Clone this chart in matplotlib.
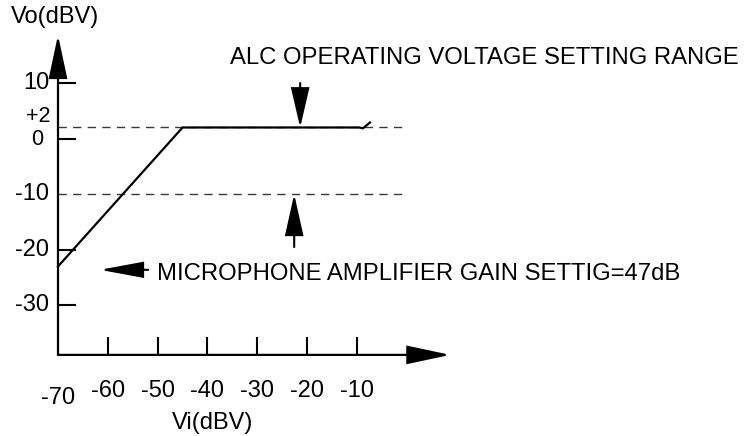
import matplotlib
matplotlib.use('Agg')
import matplotlib.pyplot as plt
from matplotlib.patches import FancyArrowPatch

plt.rcParams['font.family'] = ['Liberation Sans', 'DejaVu Sans']

# ---------------- data ----------------
vi_curve = [-70, -45, -9.6, -8.8, -7.4]
vo_curve = [-23, 2, 2, 1.85, 2.9]

x_tick_vals = [-60, -50, -40, -30, -20, -10]
x_label_vals = [-70, -60, -50, -40, -30, -20, -10]
x_label_text = ['-70', '-60', '-50', '-40', '-30', '-20', '-10']

y_tick_vals = [10, 0, -20, -30]
y_label_vals = [10, 2, 0, -10, -20, -30]
y_label_text = ['10', '+2', '0', '-10', '-20', '-30']

alc_upper = 2
alc_lower = -10

x_origin, x_end = -70, 8.7
y_origin, y_end = -38.9, 18.6
dash_end = 0.2

# ---------------- figure ----------------
fig = plt.figure(figsize=(7.47, 4.36), dpi=100)
ax = fig.add_axes([0, 0, 1, 1])
ax.set_xlim(-81.64, 68.27)
ax.set_ylim(-53.49, 24.93)
ax.axis('off')

def arrow(p0, p1, lw=1.5, hl=27, hw=5.8):
    a = FancyArrowPatch(p0, p1, arrowstyle=f'-|>,head_length={hl},head_width={hw}',
                        mutation_scale=1, lw=lw, color='black',
                        shrinkA=0, shrinkB=0, joinstyle='miter')
    ax.add_patch(a)

# axes with arrows
arrow((x_origin, y_origin), (x_origin, y_end), lw=1.6, hl=27, hw=5.8)
arrow((x_origin, y_origin), (x_end, y_origin), lw=1.6, hl=27, hw=5.8)

# ticks
tick_dy = 3.25
tick_dx = 3.6
ax.vlines(x_tick_vals, y_origin, y_origin + tick_dy, color='black', lw=1.5)
ax.hlines(y_tick_vals, x_origin, x_origin + tick_dx, color='black', lw=1.5)

# tick labels
fs = 17
for v, t in zip(x_label_vals, x_label_text):
    yy = -46.6 if v == -70 else -45.4
    ax.text(v, yy, t, ha='center', va='center', fontsize=fs)
for v, t in zip(y_label_vals, y_label_text):
    if t == '+2':
        ax.text(-71.6, v + 2.0, t, ha='right', va='center', fontsize=15.5)
    elif t == '0':
        ax.text(-73.0, v - 0.1, t, ha='right', va='center', fontsize=15.5)
    else:
        ax.text(-71.8, v, t, ha='right', va='center', fontsize=fs)

ax.text(-38.9, -51.1, 'Vi(dBV)', ha='center', va='center', fontsize=fs)
ax.text(-70.6, 21.9, 'Vo(dBV)', ha='center', va='center', fontsize=fs)

# dashed reference lines
for yv in (alc_upper, alc_lower):
    ln, = ax.plot([x_origin, dash_end], [yv, yv], color='#3a3a3a', lw=1.0)
    ln.set_dashes((6, 4.5))

# characteristic curve
ax.plot(vi_curve, vo_curve, color='black', lw=1.6, solid_joinstyle='miter')

# ALC range annotation
ax.text(-35.5, 14.5, 'ALC OPERATING VOLTAGE SETTING RANGE', ha='left', va='center',
        fontsize=17.2)
arrow((-21.4, 10.0), (-21.4, alc_upper), lw=1.5, hl=25, hw=5.8)
arrow((-22.6, -19.5), (-22.6, alc_lower), lw=1.5, hl=26, hw=5.8)

# microphone gain annotation
arrow((-51.9, -23.6), (-61.6, -23.6), lw=1.5, hl=27, hw=5.0)
ax.text(-50.1, -24.35, 'MICROPHONE AMPLIFIER GAIN SETTIG=47dB', ha='left', va='center',
        fontsize=17.2)

fig.savefig('out.png', dpi=100)
